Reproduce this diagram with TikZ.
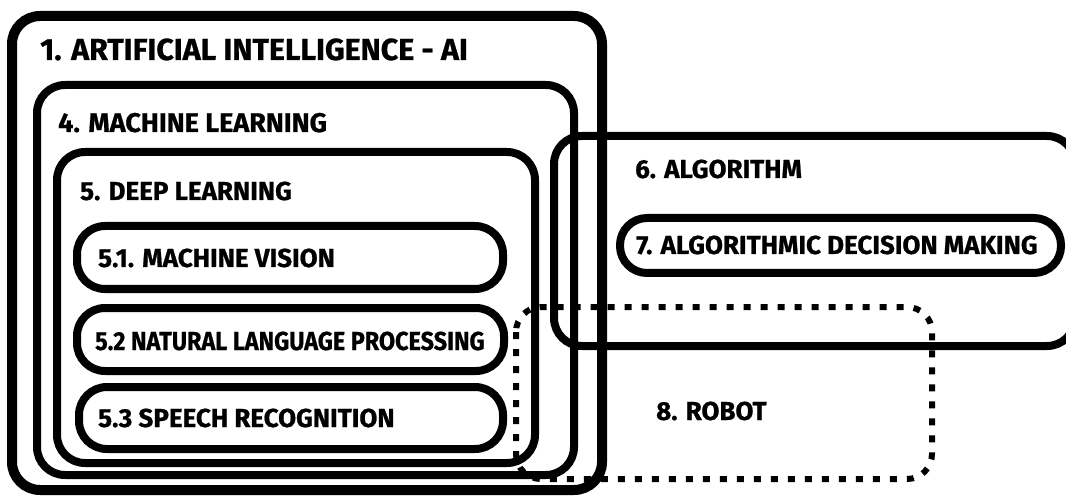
\documentclass[tikz,border=0pt]{standalone}
\usepackage{fontspec}
\setmainfont{Fira Sans}[BoldFeatures={FakeBold=0.8}]
\begin{document}
\begin{tikzpicture}[x=1pt,y=-1pt,
  box/.style={line width=8pt,rounded corners=28pt},
  robotbox/.style={line width=6pt,rounded corners=25pt,dash pattern=on 7pt off 10pt},
  lbl/.style={anchor=base west,inner sep=0pt,font=\bfseries\fontsize{26}{28}\selectfont}]
\clip (0,0) rectangle (1066,497);
% robot (dashed) goes under the others
\draw[robotbox] (516,307) rectangle (932,479);
\draw[box,line width=10pt] (12,16) rectangle (602,490);
\draw[box] (37,85) rectangle (574,475);
\draw[box] (57,152) rectangle (535,463);
\draw[box] (77,226) rectangle (503,289);
\draw[box] (77,308) rectangle (504,371);
\draw[box] (79,387) rectangle (503,449);
\draw[box] (554,136) rectangle (1075,346);
\draw[box,rounded corners=27pt] (620,218) rectangle (1061,273);
% labels
\node[lbl,font=\bfseries\fontsize{30.4}{32}\selectfont] (ai) at (40,60) {1. ARTIFICIAL INTELLIGENCE - AI};
\node[lbl,font=\bfseries\fontsize{27}{29}\selectfont] (ml) at (58,132) {4. MACHINE LEARNING};
\node[lbl] (dl) at (80,200) {5. DEEP LEARNING};
\node[lbl] (vision) at (98,267) {5.1. MACHINE VISION};
\node[lbl] (nlp) at (95,350) {\scalebox{0.9}[1]{5.2 NATURAL LANGUAGE PROCESSING}};
\node[lbl] (speech) at (98,427) {5.3 SPEECH RECOGNITION};
\node[lbl] (algo) at (635,178) {6. ALGORITHM};
\node[lbl] (adm) at (636,254) {7. ALGORITHMIC DECISION MAKING};
\node[lbl] (robot) at (656,420) {8. ROBOT};
\end{tikzpicture}
\end{document}
